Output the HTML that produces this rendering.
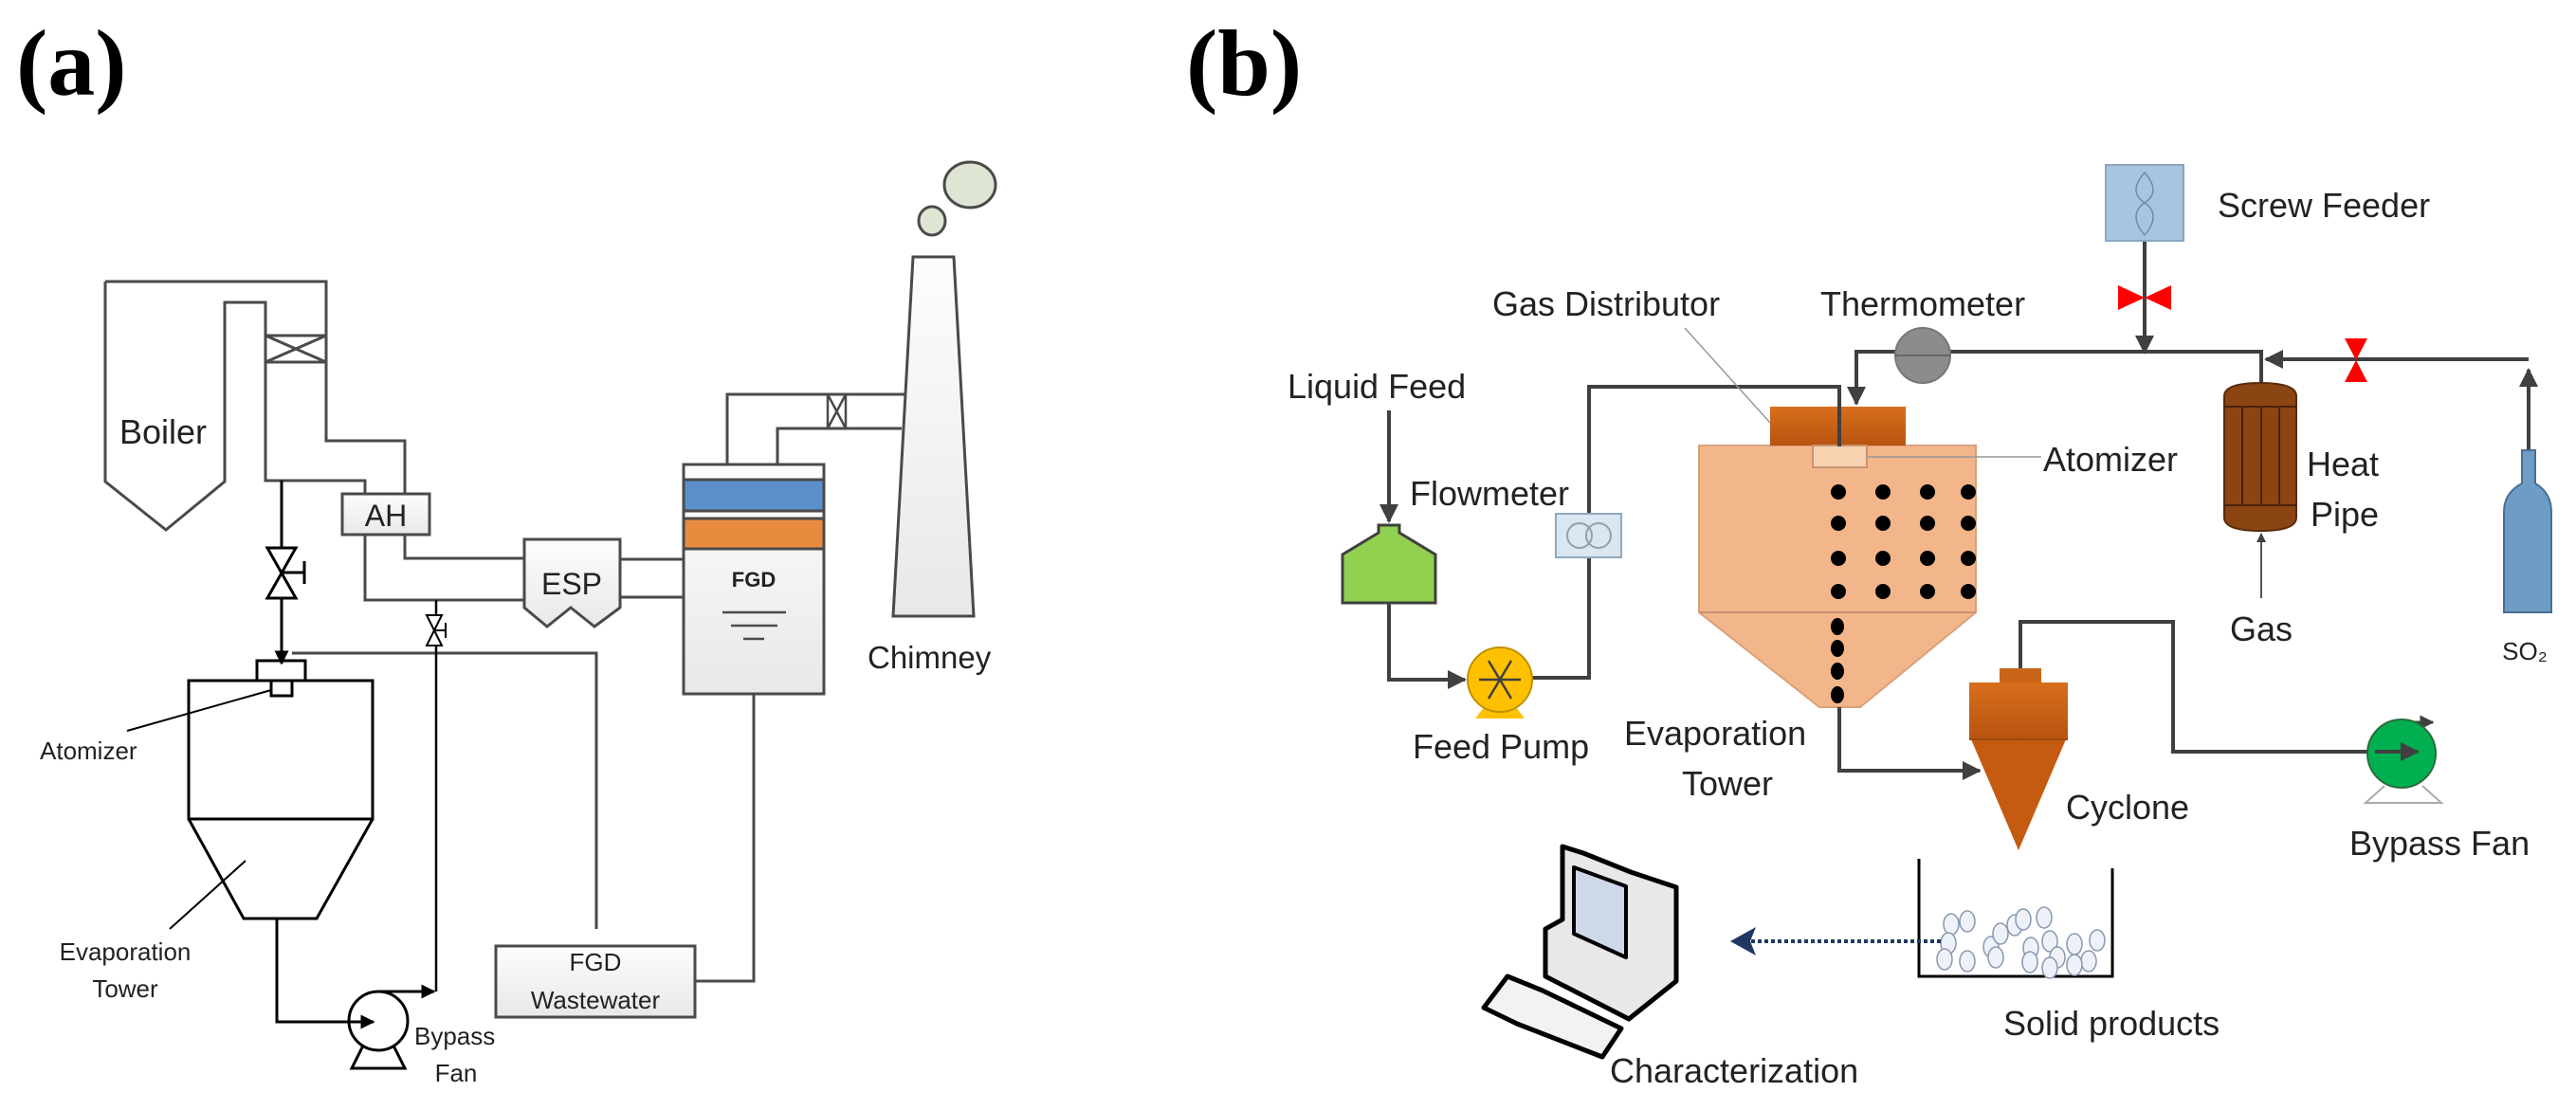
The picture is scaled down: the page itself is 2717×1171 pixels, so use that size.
<!DOCTYPE html>
<html><head><meta charset="utf-8"><style>
html,body{margin:0;padding:0;background:#fff;}
svg{display:block;}
text{font-family:"Liberation Sans",sans-serif;fill:#222;}
</style></head><body>
<svg width="2717" height="1171" viewBox="0 0 2717 1171" xmlns="http://www.w3.org/2000/svg">
<defs>
<linearGradient id="gg" x1="0" y1="0" x2="0" y2="1"><stop offset="0" stop-color="#fdfdfd"/><stop offset="1" stop-color="#e8e8e8"/></linearGradient>
<linearGradient id="og" x1="0" y1="0" x2="0" y2="1"><stop offset="0" stop-color="#d86f1d"/><stop offset="1" stop-color="#b8530f"/></linearGradient>
<marker id="ah" viewBox="0 0 10 10" refX="9" refY="5" markerWidth="5" markerHeight="5" orient="auto"><path d="M0,0L10,5L0,10z" fill="#000"/></marker>
<marker id="bh" viewBox="0 0 10 10" refX="9" refY="5" markerWidth="5" markerHeight="5" orient="auto"><path d="M0,0L10,5L0,10z" fill="#404040"/></marker>
</defs>

<!-- ===== (a) ===== -->
<text x="17" y="100" style="font-family:'Liberation Serif',serif;font-weight:bold;font-size:100px;fill:#000">(a)</text>
<g fill="none" stroke="#4a4a4a" stroke-width="3">
<path d="M111,297 H344 V465 H427 V521 M111,297 V508 L175,559 L237,508 V319 H280 V507 H385 V521" />
<path d="M280,354 H344 V382 H280 Z M280,354 L344,382 M344,354 L280,382"/>
<rect x="361" y="521" width="92" height="43" fill="url(#gg)"/>
<path d="M385,564 V633 H553 M427,564 V589 H553"/>
<path d="M553,569 H654 V641 L627,661 L602,641 L577,661 L553,641 Z" fill="url(#gg)"/>
<path d="M654,590 H721 M654,630 H721"/>
<rect x="721" y="490" width="148" height="242" fill="url(#gg)"/>
<rect x="721" y="506" width="148" height="33" fill="#5b8fc9"/>
<rect x="721" y="547" width="148" height="32" fill="#e88b3f"/>
<path d="M762,646 H829 M771,660 H820 M784,674 H806" stroke-width="2.5"/>
<path d="M767,490 V416 H954 M820,490 V452 H951"/>
<path d="M873,416 V452 M892,416 V452 M873,416 L892,452 M892,416 L873,452" stroke-width="2.5"/>
<path d="M963,271 H1006 L1027,650 H942 Z" fill="url(#gg)"/>
<ellipse cx="983" cy="233" rx="14" ry="15" fill="#dfe5d3"/>
<ellipse cx="1023" cy="195" rx="27" ry="24" fill="#dfe5d3"/>
<path d="M795,732 V1035 H733"/>
<rect x="523" y="998" width="210" height="75" fill="url(#gg)"/>
<path d="M629,980 V689 H308"/>
</g>
<g fill="none" stroke="#000" stroke-width="3">
<path d="M297,507 V578 M297,631 V700" marker-end="url(#ah)"/>
<path d="M282,578 H312 L282,631 H312 Z M297,604 H321 M321,592 V616"/>
<rect x="271" y="697" width="51" height="21"/>
<rect x="286" y="718" width="22" height="16"/>
<path d="M199,718 H393 V864 H199 Z M199,864 L257,969 H334 L393,864"/>
<path d="M286,728 L134,771 M259,908 L179,980" stroke-width="2"/>
<path d="M292,969 V1078 H394" marker-end="url(#ah)"/>
<circle cx="399" cy="1077" r="31"/>
<path d="M383,1103 L371,1127 H427 L415,1103"/>
<path d="M399,1046 H458" marker-end="url(#ah)"/>
<path d="M460,1046 V681 M460,649 V633" stroke-width="2.5"/>
<path d="M450,649 H466 L450,681 H466 Z M458,665 H470 M470,657 V673" stroke-width="2"/>
</g>
<text x="126" y="468" font-size="36">Boiler</text>
<text x="407" y="555" font-size="32" text-anchor="middle">AH</text>
<text x="603" y="627" font-size="32" text-anchor="middle">ESP</text>
<text x="795" y="619" font-size="22" font-weight="bold" text-anchor="middle">FGD</text>
<text x="915" y="705" font-size="33">Chimney</text>
<text x="42" y="801" font-size="26">Atomizer</text>
<text x="132" y="1013" font-size="26" text-anchor="middle">Evaporation</text>
<text x="132" y="1052" font-size="26" text-anchor="middle">Tower</text>
<text x="437" y="1102" font-size="26">Bypass</text>
<text x="481" y="1141" font-size="26" text-anchor="middle">Fan</text>
<text x="628" y="1024" font-size="26" text-anchor="middle">FGD</text>
<text x="628" y="1064" font-size="26" text-anchor="middle">Wastewater</text>

<!-- ===== (b) ===== -->
<text x="1251" y="100" style="font-family:'Liberation Serif',serif;font-weight:bold;font-size:100px;fill:#000">(b)</text>
<!-- tower -->
<path d="M1792,470 H2084 V646 L1962,746 H1919 L1792,646 Z" fill="#f2b68a" stroke="#d9a07a" stroke-width="2"/>
<path d="M1792,646 H2084" stroke="#c99270" stroke-width="2"/>
<rect x="1867" y="429" width="143" height="41" fill="url(#og)"/>
<rect x="1912" y="470" width="57" height="23" fill="#f8d2b0" stroke="#c99270" stroke-width="2"/>
<g fill="#000">
<circle cx="1939" cy="519" r="8"/><circle cx="1986" cy="519" r="8"/><circle cx="2033" cy="519" r="8"/><circle cx="2076" cy="519" r="8"/>
<circle cx="1939" cy="552" r="8"/><circle cx="1986" cy="552" r="8"/><circle cx="2033" cy="552" r="8"/><circle cx="2076" cy="552" r="8"/>
<circle cx="1939" cy="589" r="8"/><circle cx="1986" cy="589" r="8"/><circle cx="2033" cy="589" r="8"/><circle cx="2076" cy="589" r="8"/>
<circle cx="1939" cy="624" r="8"/><circle cx="1986" cy="624" r="8"/><circle cx="2033" cy="624" r="8"/><circle cx="2076" cy="624" r="8"/>
<ellipse cx="1938" cy="661" rx="7" ry="9"/><ellipse cx="1938" cy="684" rx="7" ry="9"/><ellipse cx="1938" cy="708" rx="7" ry="9"/><ellipse cx="1938" cy="733" rx="7" ry="9"/>
</g>
<g fill="none" stroke="#404040" stroke-width="4">
<path d="M1465,433 V550" marker-end="url(#bh)"/>
<path d="M1465,636 V717 H1545" marker-end="url(#bh)"/>
<path d="M1616,715 H1676 V408 H1940 V471"/>
<path d="M2000,371 H1958 V426" marker-end="url(#bh)"/>
<path d="M2057,371 H2385 V404"/>
<path d="M2262,254 V372" marker-end="url(#bh)"/>
<path d="M2667,475 V390" marker-end="url(#bh)"/>
<path d="M2667,379 H2390" marker-end="url(#bh)"/>
<path d="M1940,746 V813 H2088" marker-end="url(#bh)"/>
<path d="M2131,705 V656 H2292 V793 H2530" marker-end="url(#bh)"/>
<path d="M2540,762 H2566" marker-end="url(#bh)" stroke-width="3"/>
</g>
<path d="M2385,631 V563" stroke="#555" stroke-width="2" fill="none" marker-end="url(#bh)"/>
<path d="M1777,346 L1867,446 M1969,482 H2153" stroke="#999" stroke-width="1.5"/>
<!-- flask -->
<path d="M1454,554 H1476 V562 L1514,585 V636 H1416 V585 L1454,562 Z" fill="#92d050" stroke="#404040" stroke-width="3"/>
<!-- flowmeter -->
<rect x="1641" y="542" width="69" height="46" fill="#dae6f0" stroke="#8fa9c0" stroke-width="2"/>
<circle cx="1666" cy="565" r="13" fill="none" stroke="#8fa0b0" stroke-width="2"/>
<circle cx="1686" cy="565" r="13" fill="none" stroke="#8fa0b0" stroke-width="2"/>
<!-- feed pump -->
<path d="M1566,745 L1556,758 H1608 L1598,745 Z" fill="#ffc000"/>
<circle cx="1582" cy="717" r="34" fill="#ffc000" stroke="#bf9000" stroke-width="2"/>
<path d="M1560,717 H1604 M1570,697 L1594,737 M1594,697 L1570,737" stroke="#404040" stroke-width="2.5"/>
<!-- thermometer -->
<circle cx="2028" cy="375" r="29" fill="#8c8c8c" stroke="#777" stroke-width="2"/>
<path d="M1999,375 H2057" stroke="#666" stroke-width="2"/>
<!-- screw feeder -->
<rect x="2221" y="174" width="82" height="80" fill="#a9c4e0" stroke="#8aa6c4" stroke-width="2"/>
<path d="M2262,182 C2250,196 2250,206 2262,214 C2274,222 2274,234 2262,248 C2250,234 2250,222 2262,214 C2274,206 2274,196 2262,182 Z" fill="none" stroke="#6f8aa8" stroke-width="1.5"/>
<path d="M2234,301 L2262,314 L2234,327 Z M2290,301 L2262,314 L2290,327 Z" fill="#ff0000"/>
<path d="M2473,357 L2485,380 L2497,357 Z M2473,403 L2485,380 L2497,403 Z" fill="#ff0000"/>
<!-- heat pipe -->
<path d="M2346,418 Q2346,404 2384,404 Q2422,404 2422,418 V546 Q2422,560 2384,560 Q2346,560 2346,546 Z" fill="#8b4513" stroke="#5a2a0a" stroke-width="2"/>
<path d="M2346,429 H2422 M2346,533 H2422 M2365,429 V533 M2385,429 V533 M2404,429 V533" stroke="#4a2208" stroke-width="2"/>
<!-- SO2 cylinder -->
<path d="M2660,475 H2674 V510 Q2691,520 2691,540 V646 H2641 V540 Q2641,520 2660,510 Z" fill="#6d9dc5" stroke="#4a6e91" stroke-width="2"/>
<!-- cyclone -->
<rect x="2109" y="705" width="44" height="15" fill="#c96418"/>
<rect x="2077" y="720" width="104" height="60" fill="url(#og)"/>
<path d="M2079,780 H2179 L2129,897 Z" fill="#c55a11"/>
<path d="M2077,780 H2181" stroke="#9e4a10" stroke-width="2"/>
<!-- bypass fan -->
<path d="M2515,829 L2495,847 H2575 L2555,829" fill="none" stroke="#aaa" stroke-width="2"/>
<circle cx="2533" cy="795" r="36" fill="#00b050" stroke="#2a6b3a" stroke-width="2"/>
<path d="M2505,793 H2550" stroke="#404040" stroke-width="4" marker-end="url(#bh)"/>
<!-- beaker -->
<path d="M2024,906 V1030 H2228 V916" fill="none" stroke="#000" stroke-width="3"/>
<g fill="#eef2f8" stroke="#8898b0" stroke-width="1.5">
<ellipse cx="2058" cy="975" rx="8" ry="11"/><ellipse cx="2075" cy="972" rx="8" ry="11"/><ellipse cx="2055" cy="995" rx="8" ry="11"/>
<ellipse cx="2051" cy="1012" rx="8" ry="11"/><ellipse cx="2075" cy="1014" rx="8" ry="11"/><ellipse cx="2100" cy="999" rx="8" ry="11"/>
<ellipse cx="2110" cy="985" rx="8" ry="11"/><ellipse cx="2125" cy="976" rx="8" ry="11"/><ellipse cx="2134" cy="970" rx="8" ry="11"/>
<ellipse cx="2156" cy="968" rx="8" ry="11"/><ellipse cx="2162" cy="993" rx="8" ry="11"/><ellipse cx="2142" cy="1000" rx="8" ry="11"/>
<ellipse cx="2188" cy="996" rx="8" ry="11"/><ellipse cx="2212" cy="992" rx="8" ry="11"/><ellipse cx="2203" cy="1014" rx="8" ry="11"/>
<ellipse cx="2170" cy="1010" rx="8" ry="11"/><ellipse cx="2141" cy="1015" rx="8" ry="11"/><ellipse cx="2162" cy="1021" rx="8" ry="11"/>
<ellipse cx="2105" cy="1010" rx="8" ry="11"/><ellipse cx="2188" cy="1018" rx="8" ry="11"/>
</g>
<path d="M2047,993 H1835" stroke="#1f3864" stroke-width="4" stroke-dasharray="4,3"/>
<path d="M1825,993 L1852,978 L1846,993 L1852,1008 Z" fill="#1f3864"/>
<!-- computer -->
<g stroke="#000" stroke-width="5" stroke-linejoin="round">
<path d="M1648,893 L1670,900 L1720,920 L1768,936 V1035 L1718,1075 L1630,1030 V980 L1648,970 Z" fill="#e8e8e8"/>
<path d="M1660,915 L1715,935 V1010 L1660,985 Z" fill="#cfd8e8" stroke-width="4"/>
<path d="M1627,1045 L1710,1085 L1690,1115 L1600,1080 L1565,1063 L1590,1030 Z" fill="#f2f2f2" stroke-width="5"/>
</g>
<text x="1574" y="333" font-size="36">Gas Distributor</text>
<text x="1920" y="333" font-size="36">Thermometer</text>
<text x="2339" y="229" font-size="36">Screw Feeder</text>
<text x="1358" y="420" font-size="36">Liquid Feed</text>
<text x="1487" y="533" font-size="36">Flowmeter</text>
<text x="2155" y="497" font-size="36">Atomizer</text>
<text x="2433" y="502" font-size="36">Heat</text>
<text x="2437" y="555" font-size="36">Pipe</text>
<text x="2385" y="676" font-size="36" text-anchor="middle">Gas</text>
<text x="2663" y="696" font-size="26" text-anchor="middle">SO₂</text>
<text x="1490" y="800" font-size="36">Feed Pump</text>
<text x="1713" y="786" font-size="36">Evaporation</text>
<text x="1822" y="839" font-size="36" text-anchor="middle">Tower</text>
<text x="2179" y="864" font-size="36">Cyclone</text>
<text x="2478" y="902" font-size="36">Bypass Fan</text>
<text x="2113" y="1092" font-size="36">Solid products</text>
<text x="1698" y="1142" font-size="36">Characterization</text>
</svg>
</body></html>
